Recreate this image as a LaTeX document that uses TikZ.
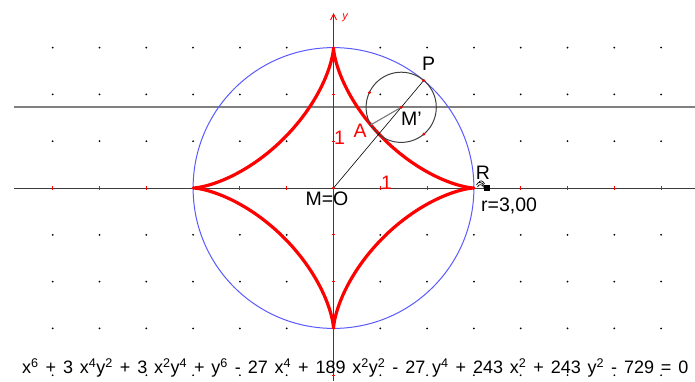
\documentclass[tikz,border=0pt]{standalone}
\usepackage{fontspec}
\setmainfont{Liberation Sans}
\usetikzlibrary{arrows.meta}
\newcommand{\mysup}[1]{\textsuperscript{#1}}
\definecolor{circblue}{RGB}{90,90,255}
\definecolor{axisgrey}{RGB}{60,60,60}
\definecolor{linegrey}{RGB}{128,128,128}
\tikzset{
  axisline/.style={draw=axisgrey, line width=1pt},
  tickmark/.style={draw=red, line width=1pt},
  lbl/.style={font=\fontsize{19.5}{19.5}\selectfont, inner sep=0pt},
  redlbl/.style={lbl, text=red},
}
\begin{document}
\begin{tikzpicture}[x=1pt,y=-1pt]
\useasboundingbox (0,0) rectangle (695,381);
% grid dots
\foreach \i in {-6,...,7}{
  \foreach \j in {-4,...,3}{
    \ifnum\i=0\relax\else\ifnum\j=0\relax\else
      \fill ({333.5+46.8*\i},{188-46.8*\j}) circle (1);
    \fi\fi
  }
}
% construction horizontal line
\coordinate (HL) at (14,107.3);
\coordinate (HR) at (695,107.3);
\draw[linegrey, line width=1.8pt] (HL) -- (HR);
% axes
\coordinate (XL) at (14,188);
\coordinate (XR) at (695,188);
\coordinate (YB) at (333.5,381);
\coordinate (YT) at (333.5,14);
\draw[axisline] (XL) -- (XR);
\draw[axisline] (YB) -- (YT);
\draw[red, line width=0.9pt] (330.5,20) -- (333.5,14) -- (336.5,20);
\node[text=red, font=\fontsize{11}{11}\selectfont\itshape, inner sep=0pt] (ylab) at (345,18) {y};
% ticks
\foreach \i in {-6,...,7}{
  \ifnum\i=0\relax\else
    \draw[tickmark] ({333.5+46.8*\i},186.3) -- ({333.5+46.8*\i},189.7);
  \fi
}
\foreach \j in {-4,...,3}{
  \ifnum\j=0\relax\else
    \draw[tickmark] (331.8,{188-46.8*\j}) -- (335.2,{188-46.8*\j});
  \fi
}
% big circle
\coordinate (O) at (333.5,188);
\draw[circblue, line width=1pt] (O) circle (140.4);
% astroid
\draw[red, line width=3.2pt, line join=round]
  plot[domain=0:360, samples=400] ({333.5+140.4*cos(\x)*cos(\x)*cos(\x)}, {188-140.4*sin(\x)*sin(\x)*sin(\x)}) -- cycle;
% points
\coordinate (P) at (423.75,80.45);
\coordinate (Mp) at (401.2,107.3);
\coordinate (A) at (370.8,124.9);
\coordinate (R) at (473.9,188);
\coordinate (Q1) at (369.4,92.5);
\coordinate (Q2) at (423.8,134.2);
% small circle
\draw[black!75, line width=1pt] (Mp) circle (35.1);
% lines
\draw[black, line width=0.6pt] (O) -- (P);
\draw[linegrey, line width=1.2pt] (Mp) -- (A);
% red points
\foreach \p in {P,Mp,O,Q1,Q2}{ \fill[red] (\p) circle (1.6); }
% hand cursor at R
\fill[black] (484,184.5) rectangle (489.5,191);
\draw[black, line width=0.7pt] (476.5,185) .. controls (478,181) and (482,182) .. (484,185.5)
  (477.5,187) .. controls (479,183.5) and (482,184) .. (484,187.5)
  (478.5,183) .. controls (480,179.5) and (483,180.5) .. (484.5,184);
% labels
\node[lbl] (Plab) at (428.5,63.5) {P};
\node[lbl] (Mplab) at (411.5,118.5) {M'};
\node[redlbl] (Alab) at (360,131) {A};
\node[redlbl] (one1) at (339.5,138) {1};
\node[redlbl] (one2) at (386.5,182.5) {1};
\node[lbl] (Olab) at (327,199) {M=O};
\node[lbl] (Rlab) at (483,172.5) {R};
\node[lbl, anchor=base west] (rlab) at (481,211.5) {r=3,00};
% equation
\node[font=\fontsize{18}{18}\selectfont, inner sep=0pt, anchor=base west] (eq) at (22,373.3)
  {\spaceskip=6.9pt plus 0pt\relax x\mysup{6} + 3 x\mysup{4}y\mysup{2} + 3 x\mysup{2}y\mysup{4} + y\mysup{6} - 27 x\mysup{4} + 189 x\mysup{2}y\mysup{2} - 27 y\mysup{4} + 243 x\mysup{2} + 243 y\mysup{2} - 729 = 0};
\end{tikzpicture}
\end{document}
